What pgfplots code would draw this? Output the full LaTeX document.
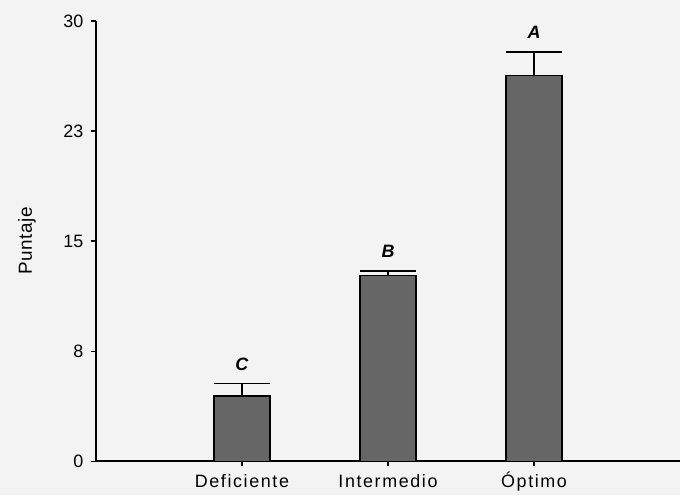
\documentclass[border=0pt]{standalone}
\usepackage{fontspec}
\setmainfont{Liberation Sans}
\usepackage{pgfplots}
\pgfplotsset{compat=1.18}
\definecolor{bg}{HTML}{F3F3F3}
\definecolor{barfill}{HTML}{666666}
\begin{document}
\begin{tikzpicture}
\fill[bg] (-96bp,-34bp) rectangle (585bp,462bp);
\begin{axis}[
  at={(0,0)}, anchor=south west,
  scale only axis, width=585bp, height=441bp,
  xmin=0, xmax=4, ymin=0, ymax=30,
  axis x line=bottom, axis y line=left,
  axis line style={-, line width=1.8bp, black},
  xtick={1,2,3},
  xticklabels={Deficiente,Intermedio,Óptimo},
  ytick={0,7.5,15,22.5,30},
  yticklabels={0,8,15,23,30},
  tick align=outside,
  major tick length=5bp,
  tick style={line width=1.5bp, black},
  /pgf/number format/assume math mode=true,
  ticklabel style={font=\fontsize{18}{20}\selectfont},
  xticklabel style={font=\fontsize{18}{20}\selectfont\addfontfeature{LetterSpace=9}, text height=16bp, text depth=4bp, yshift=-2bp},
  yticklabel style={xshift=-4bp},
  ylabel={Puntaje},
  ylabel style={font=\fontsize{19}{22}\selectfont\addfontfeature{LetterSpace=3}, at={(axis description cs:-0.118,0.5)}, anchor=center},
  clip=false,
]
\addplot[ybar, bar width=56bp, fill=barfill, draw=black, line width=1.5bp,
  error bars/.cd, y dir=plus, y explicit,
  error bar style={line width=1.5bp, black},
  error mark options={mark size=28bp, line width=1.5bp, black, rotate=90}]
  coordinates {(1,4.44) +- (0,0.85) (2,12.67) +- (0,0.30) (3,26.28) +- (0,1.59)};
\addplot[draw=none, mark=none, nodes near coords, point meta=explicit symbolic,
  nodes near coords style={anchor=south, yshift=10bp, font=\fontsize{18}{20}\selectfont\bfseries\itshape}]
  coordinates {(1,5.29)[C] (2,12.97)[B] (3,27.87)[A]};
\end{axis}
\end{tikzpicture}
\end{document}
